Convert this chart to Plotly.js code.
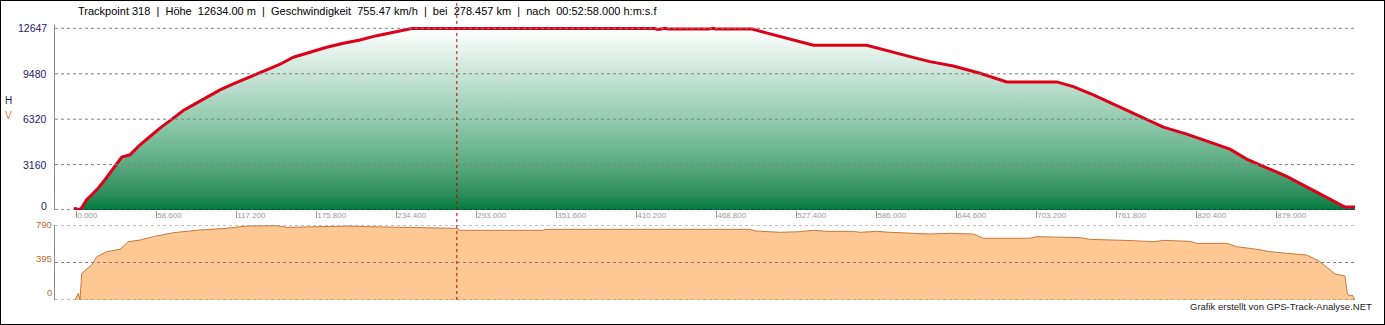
<!DOCTYPE html>
<html><head><meta charset="utf-8">
<script src="https://cdn.plot.ly/plotly-3.0.1.min.js"></script>
<style>
html,body{margin:0;padding:0;background:#fff;overflow:hidden}
#chart{width:1385px;height:325px}
#frame{position:absolute;left:0;top:0;width:1383px;height:323px;border:1px solid #000;pointer-events:none}
</style></head><body>
<div id="chart"></div><div id="frame"></div>
<script>
// ---- data ----
const titleText = 'Trackpoint 318\u00a0\u00a0|\u00a0\u00a0Höhe\u00a0\u00a012634.00 m\u00a0\u00a0|\u00a0\u00a0Geschwindigkeit\u00a0\u00a0755.47 km/h\u00a0\u00a0|\u00a0\u00a0bei\u00a0\u00a0278.457 km\u00a0\u00a0|\u00a0\u00a0nach\u00a0\u00a000:52:58.000 h:m:s.f';
const creditText = 'Grafik erstellt von GPS-Track-Analyse.NET';

const elevKm = [-1.3,-0.8,3.0,5.5,7.3,11,15.8,20.7,26.8,33,39,46.4,53.7,61,70.8,78.1,85.4,95.2,105,114.7,127,139.2,149,158.7,170.9,183.1,195.3,207.5,219.8,231.9,245.4,423.6,425.5,428,431,433,463,466,468,494.6,510.3,522.5,539.6,578.7,595.7,610.4,625,642.1,661.7,681.2,717.9,730,744.7,764.2,783.8,796,813.1,830.2,844.8,857,871.7,886.3,905.8,920.5,929,936.4];
const elevM  = [200,60,60,500,716,1063,1529,2105,2918,3683,3843,4538,5115,5698,6393,6921,7317,7853,8360,8777,9243,9750,10146,10632,10980,11327,11605,11835,12134,12370,12634,12634,12560,12600,12647,12590,12590,12647,12600,12590,12182,11883,11466,11466,11022,10674,10327,10028,9520,8916,8916,8590,8012,7158,6275,5768,5281,4698,4239,3544,2918,2335,1362,598,208,208];

const speedKm  = [-1.2,1.2,2.4,3.7,11,14.7,22,31.7,37.8,46.4,56.1,70.8,90.3,109.9,124.5,146.5,153.8,170.9,200.2,214.8,236.8,278.4,280.8,341.8,343,493.2,496.9,515.2,529.8,539.6,549.4,568.9,573.8,586,595.7,612.8,625,639.7,656.8,664.1,698.3,703.2,735,742.3,761.8,773.9,788.6,796,815.5,820.4,842.4,849.7,864.4,874.1,886.3,901,910.7,921.7,929,930.7,932.7,934.2,936.4];
const speedKmh = [0,70,0,281,369,456,509,534,614,632,667,709,737,755,779,783,765,772,779,772,765,755,734,734,744,744,727,713,720,734,723,723,713,723,713,699,695,702,695,650,650,667,657,639,632,625,614,628,618,597,597,562,534,509,492,474,404,274,253,70,42,53,0];

const xTickVals = [0,58.6,117.2,175.8,234.4,293,351.6,410.2,468.8,527.4,586,644.6,703.2,761.8,820.4,879];
const xTickText = ['0.000','58.600','117.200','175.800','234.400','293.000','351.600','410.200','468.800','527.400','586.000','644.600','703.200','761.800','820.400','879.000'];
const hTickVals = [0,3160,6320,9480,12647];
const hTickText = ['0','3160','6320','9480','12647'];
const hTickShift = [4,0,0,0,0];
const vTickVals = [0,395,790];
const vTickText = ['0','395','790'];
const vTickShift = [8,4.5,1];
const cursorKm = 278.457;

// ---- layout constants ----
const FONT = '"Liberation Sans", Arial, sans-serif';
const xMin = -15.9, xMax = 936.35;
const hTop = 12647*(210-25)/(210-28.3);

const traces = [
  {x:elevKm, y:elevM, xaxis:'x', yaxis:'y', type:'scatter', mode:'lines', fill:'tozeroy',
   fillgradient:{type:'vertical', start:0, stop:12647,
     colorscale:[[0,'#007a3d'],[0.08,'#2a8c5a'],[0.25,'#5aaa80'],[0.5,'#93cbb0'],[0.75,'#c9e5d8'],[1,'#ffffff']]},
   line:{color:'#dc0018', width:3}, hoverinfo:'skip'},
  {x:speedKm, y:speedKmh, xaxis:'x2', yaxis:'y2', type:'scatter', mode:'lines', fill:'tozeroy',
   fillcolor:'#fdc894', line:{color:'#c47a3e', width:1}, hoverinfo:'skip'}
];

const shapes = [];
hTickVals.forEach(v => shapes.push({type:'line', xref:'paper', x0:0, x1:1, yref:'y', y0:v, y1:v, layer:'above',
  line:{color: v===0 ? '#1a1a5a' : '#808080', width:1, dash:'dot'}}));
vTickVals.forEach(v => shapes.push({type:'line', xref:'paper', x0:0, x1:1, yref:'y2', y0:v, y1:v, layer:'above',
  line:{color:'#808080', width:1, dash:'dot'}}));
shapes.push({type:'line', xref:'x', x0:cursorKm, x1:cursorKm, yref:'paper', y0:0, y1:(300-1)/275, layer:'above',
  line:{color:'#c00000', width:1, dash:'dot'}});

const annotations = [];
hTickVals.forEach((v,i) => annotations.push({xref:'paper', x:(48.5-55)/1300, xanchor:'right', yref:'y', y:v, yanchor:'middle',
  yshift:hTickShift[i], text:hTickText[i], showarrow:false, font:{family:FONT, size:10.5, color:'#1b1b6e'}}));
vTickVals.forEach((v,i) => annotations.push({xref:'paper', x:(53.5-55)/1300, xanchor:'right', yref:'y2', y:v, yanchor:'middle',
  yshift:vTickShift[i], text:vTickText[i], showarrow:false, font:{family:FONT, size:9.5, color:'#b8692c'}}));
annotations.push({xref:'paper', x:(8-55)/1300, xanchor:'center', yref:'paper', y:(300-100)/275, yanchor:'middle',
  text:'H', showarrow:false, font:{family:FONT, size:10, color:'#1b1b6e'}});
annotations.push({xref:'paper', x:(8-55)/1300, xanchor:'center', yref:'paper', y:(300-115)/275, yanchor:'middle',
  text:'V', showarrow:false, font:{family:FONT, size:10, color:'#d0843f'}});
annotations.push({xref:'paper', x:(1374-55)/1300, xanchor:'right', yref:'paper', y:(300-306)/275, yanchor:'middle',
  text:creditText, showarrow:false, font:{family:FONT, size:9.5, color:'#222'}});

const layout = {
  width:1385, height:325, margin:{l:55, r:30, t:25, b:25, pad:0},
  paper_bgcolor:'#fff', plot_bgcolor:'rgba(0,0,0,0)', showlegend:false,
  title:{text:titleText, font:{family:FONT, size:11, color:'#000'}, xref:'container', yref:'container',
    x:78/1385, xanchor:'left', y:1-11.5/325, yanchor:'middle'},
  xaxis:{anchor:'y', domain:[0,1], range:[xMin,xMax], tickmode:'array', tickvals:xTickVals, ticktext:xTickText,
    ticks:'outside', ticklen:7, tickcolor:'#999', tickwidth:1, ticklabelposition:'outside right', ticklabelstandoff:-3,
    tickfont:{family:FONT, size:8, color:'#999'}, showgrid:false, zeroline:false, showline:false, fixedrange:true},
  yaxis:{anchor:'x', domain:[90/275,1], range:[0,hTop], showticklabels:false,
    ticks:'', showgrid:false, zeroline:false, showline:true, linecolor:'#8c8c8c', linewidth:1, fixedrange:true},
  xaxis2:{anchor:'y2', domain:[0,1], range:[xMin,xMax], showticklabels:false, ticks:'', showgrid:false, zeroline:false, showline:false, fixedrange:true},
  yaxis2:{anchor:'x2', domain:[0,75/275], range:[0,790], showticklabels:false, ticks:'', showgrid:false, zeroline:false,
    showline:true, linecolor:'#8c8c8c', linewidth:1, fixedrange:true},
  shapes:shapes, annotations:annotations
};

Plotly.newPlot('chart', traces, layout, {staticPlot:true, displayModeBar:false});
</script></body></html>
